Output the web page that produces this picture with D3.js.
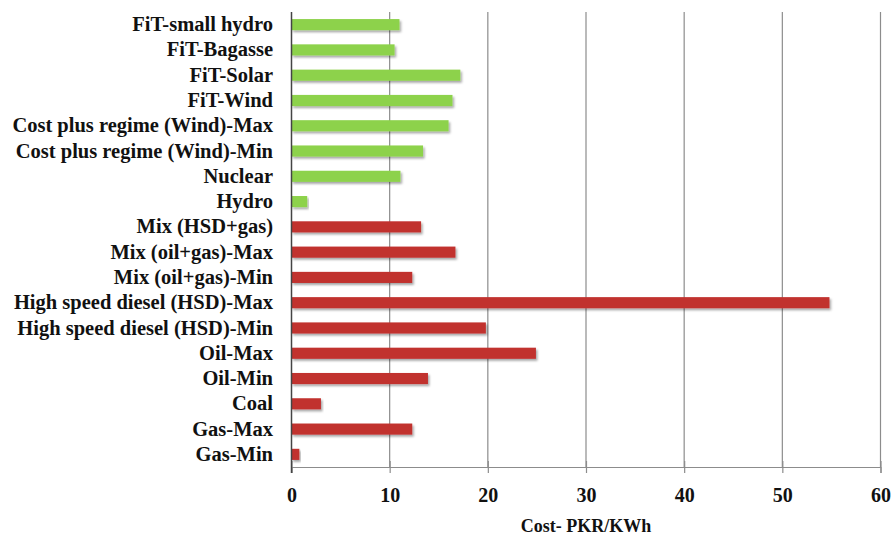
<!DOCTYPE html>
<html>
<head>
<meta charset="utf-8">
<script src="https://cdn.jsdelivr.net/npm/d3@7"></script>
<style>
  html, body { margin: 0; padding: 0; background: #fff; }
  svg { display: block; }
  text { font-family: "Liberation Serif", "Times New Roman", serif; font-weight: bold; fill: #111; }
</style>
</head>
<body>
<svg id="chart" width="892" height="536"></svg>
<script>
// Generation cost by source, PKR per kWh (top to bottom)
const categories = [
  "FiT-small hydro", "FiT-Bagasse", "FiT-Solar", "FiT-Wind",
  "Cost plus regime (Wind)-Max", "Cost plus regime (Wind)-Min",
  "Nuclear", "Hydro", "Mix (HSD+gas)", "Mix (oil+gas)-Max", "Mix (oil+gas)-Min",
  "High speed diesel (HSD)-Max", "High speed diesel (HSD)-Min",
  "Oil-Max", "Oil-Min", "Coal ", "Gas-Max", "Gas-Min"
];
const costs = [
  11.0, 10.5, 17.2, 16.4,
  16.0, 13.4,
  11.1, 1.6, 13.2, 16.7, 12.3,
  54.8, 19.8,
  24.9, 13.9, 3.0, 12.3, 0.8
];
// renewable/clean sources (green) vs fossil sources (red)
const groups = [
  "clean", "clean", "clean", "clean", "clean", "clean", "clean", "clean",
  "fossil", "fossil", "fossil", "fossil", "fossil", "fossil", "fossil", "fossil", "fossil", "fossil"
];
const xTicks = [0, 10, 20, 30, 40, 50, 60];
const xTitle = "Cost- PKR/KWh";

const colors = { clean: "#8dd24b", fossil: "#c1312f" };

const svg = d3.select("#chart");
const plot = { left: 291.5, right: 880.5, top: 12, bottom: 467 };

const x = d3.scaleLinear().domain([0, 60]).range([plot.left, plot.right]);
const y = d3.scaleBand().domain(categories).range([plot.top, plot.bottom])
  .paddingInner(0.56).paddingOuter(0.28);

// soft drop shadow under the bars
const defs = svg.append("defs");
const f = defs.append("filter").attr("id", "shadow")
  .attr("x", "-5%").attr("y", "-40%").attr("width", "115%").attr("height", "200%");
f.append("feDropShadow").attr("dx", 1.5).attr("dy", 2).attr("stdDeviation", 1.2)
  .attr("flood-color", "#000").attr("flood-opacity", 0.35);

// vertical gridlines
svg.append("g").selectAll("line")
  .data(xTicks.filter(d => d > 0))
  .join("line")
  .attr("x1", d => x(d)).attr("x2", d => x(d))
  .attr("y1", plot.top).attr("y2", plot.bottom)
  .attr("stroke", "#8c8c8c").attr("stroke-width", 1.2);

// bars
svg.append("g").selectAll("rect")
  .data(categories)
  .join("rect")
  .attr("x", x(0))
  .attr("y", d => y(d))
  .attr("width", (d, i) => x(costs[i]) - x(0))
  .attr("height", y.bandwidth())
  .attr("fill", (d, i) => colors[groups[i]])
  .attr("filter", "url(#shadow)");

// x axis
const xAxis = svg.append("g")
  .attr("transform", `translate(0,${plot.bottom})`)
  .call(d3.axisBottom(x).tickValues(xTicks).tickSize(6).tickPadding(15));
xAxis.select(".domain").attr("stroke", "#8c8c8c").attr("stroke-width", 1.2);
xAxis.selectAll(".tick line").attr("stroke", "#8c8c8c").attr("stroke-width", 1.2).attr("y1", -6);
xAxis.selectAll(".tick text")
  .style("font-family", "'Liberation Serif', 'Times New Roman', serif")
  .style("font-weight", "bold").style("font-size", "20px").attr("fill", "#111");

// y axis
const yAxis = svg.append("g")
  .attr("transform", `translate(${plot.left},0)`)
  .call(d3.axisLeft(y).tickSize(0).tickPadding(18.5));
yAxis.select(".domain").attr("stroke", "#444").attr("stroke-width", 1.5)
  .attr("d", `M0,${plot.top}V${plot.bottom + 6}`);
yAxis.selectAll(".tick text")
  .style("font-family", "'Liberation Serif', 'Times New Roman', serif")
  .style("font-weight", "bold").style("font-size", "20.5px").attr("fill", "#111");

// axis title
svg.append("text")
  .attr("x", (plot.left + plot.right) / 2)
  .attr("y", 532)
  .attr("text-anchor", "middle")
  .style("font-size", "18px")
  .text(xTitle);
</script>
</body>
</html>
